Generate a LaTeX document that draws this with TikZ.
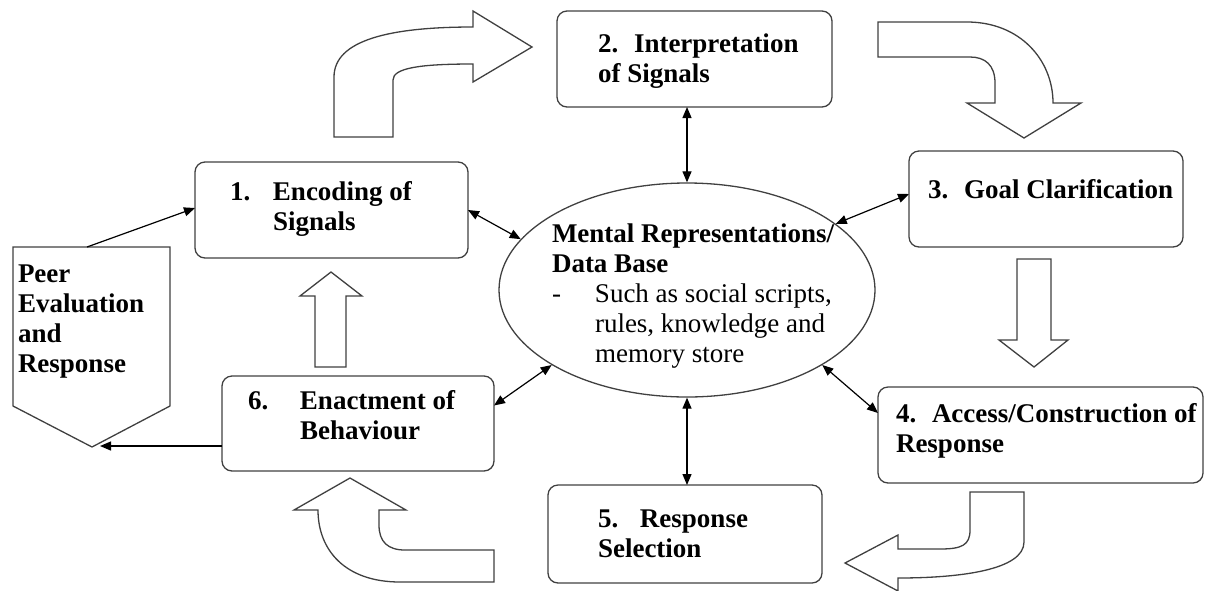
\documentclass[tikz,border=0pt]{standalone}
\usepackage{fontspec}
\setmainfont{Liberation Serif}
\usetikzlibrary{arrows.meta,shapes.geometric}
\newcommand{\txtlines}[1]{\begin{tabular}[t]{@{}l@{}}#1\end{tabular}}
\begin{document}
\begin{tikzpicture}[x=1pt,y=-1pt,
  box/.style={draw=black!75, line width=1.3pt, rounded corners=10pt,
    inner sep=0pt, outer sep=0pt},
  blk/.style={draw=black!75, line width=1.3pt, fill=white, line join=miter},
  lbl/.style={anchor=base west, inner sep=0pt, outer sep=0pt,
    font=\fontsize{27}{30}\selectfont\bfseries},
  con/.style={line width=1.2pt, -{Triangle[length=11pt,width=9pt]}},
  dbl/.style={line width=1.2pt,
    {Triangle[length=11pt,width=9pt]}-{Triangle[length=11pt,width=9pt]}}]
\useasboundingbox (0,0) rectangle (1214,590);

% central data base
\node[draw=black!75, line width=1.3pt, ellipse, minimum width=376pt,
  minimum height=214pt, inner sep=0pt] (el) at (687,290) {};
\node[lbl] (eltxt) at (552,242) {\txtlines{Mental Representations/\\Data Base\\
  \mdseries\makebox[43pt][l]{-}Such as social scripts,\\
  \mdseries\hspace{43pt}rules, knowledge and\\
  \mdseries\hspace{43pt}memory store}};

% the six steps
\node[box, minimum width=273pt, minimum height=96pt] (b1) at (331.5,210) {};
\node[box, minimum width=275pt, minimum height=96pt] (b2) at (694.5,59) {};
\node[box, minimum width=274pt, minimum height=96pt] (b3) at (1046,199) {};
\node[box, minimum width=325pt, minimum height=96pt] (b4) at (1040.5,435) {};
\node[box, minimum width=274pt, minimum height=98pt] (b5) at (685,534) {};
\node[box, minimum width=272pt, minimum height=95pt] (b6) at (358,423.5) {};

\node[lbl] (t1) at (230,200) {\txtlines{\makebox[43pt][l]{1.}Encoding of\\\hspace{43pt}Signals}};
\node[lbl] (t2) at (598,52) {\txtlines{\makebox[36pt][l]{2.}Interpretation\\of Signals}};
\node[lbl] (t3) at (928,198) {\makebox[36pt][l]{3.}Goal Clarification};
\node[lbl] (t4) at (896,422) {\txtlines{\makebox[36pt][l]{4.}Access/Construction of\\Response}};
\node[lbl] (t5) at (598,527) {\txtlines{\makebox[42pt][l]{5.}Response\\Selection}};
\node[lbl] (t6) at (248,409) {\txtlines{\makebox[52pt][l]{6.}Enactment of\\\hspace{52pt}Behaviour}};

% peer evaluation pentagon
\draw[blk] (13,247) -- (170,247) -- (170,406) -- (92,447) -- (13,406) -- cycle;
\coordinate (ptop) at (87,247);
\coordinate (ptip) at (100,446);
\node[lbl] (tp) at (18,282) {\txtlines{Peer\\Evaluation\\and\\Response}};

% connectors
\draw[con] (ptop) -- ([yshift=2pt]b1.west);
\draw[con] ([yshift=-22.5pt]b6.west) -- (ptip);
\draw[dbl] (b1.east) -- (el.163);
\draw[dbl] (el.north) -- (el.north |- b2.south);
\draw[dbl] ([yshift=5pt]b3.west) -- (el.24.1);
\draw[dbl] ([yshift=18pt]b6.east) -- (el.209.1);
\draw[dbl] ([yshift=22pt]b4.west) -- (el.331.9);
\draw[dbl] (el.south) -- (el.south |- b5.north);

% block arrows: 1 -> 2
\draw[blk] (334,137) -- (334,77) .. controls (334,40) and (390,27) .. (473,27)
  -- (473,11) -- (532,47) -- (473,82) -- (473,64)
  .. controls (420,64) and (393,68) .. (393,80) -- (393,137) -- cycle;
% 2 -> 3
\draw[blk] (878,22) -- (967,22) .. controls (1020,22) and (1053,60) .. (1053,103)
  -- (1081,103) -- (1024,138) -- (967,103) -- (995,103) -- (995,83)
  .. controls (995,65) and (985,57) .. (970,57) -- (878,57) -- cycle;
% 3 -> 4
\draw[blk] (1017,259) -- (1051,259) -- (1051,340) -- (1068,340) -- (1034,367)
  -- (999,340) -- (1017,340) -- cycle;
% 4 -> 5
\draw[blk] (970,492) -- (1024,492) -- (1024,542)
  .. controls (1024,570) and (960,578) .. (898,578) -- (898,591) -- (845,563)
  -- (898,535) -- (898,549) -- (940,549)
  .. controls (962,549) and (970,545) .. (970,530) -- cycle;
% 5 -> 6
\draw[blk] (494,550) -- (494,582) -- (400,582)
  .. controls (345,582) and (318,550) .. (318,510) -- (294,510) -- (350,478)
  -- (406,510) -- (379,510) -- (379,525)
  .. controls (379,542) and (388,550) .. (405,550) -- cycle;
% 6 -> 1
\draw[blk] (315,367) -- (315,296) -- (300,296) -- (331,272) -- (362,296)
  -- (346,296) -- (346,367) -- cycle;
\end{tikzpicture}
\end{document}
